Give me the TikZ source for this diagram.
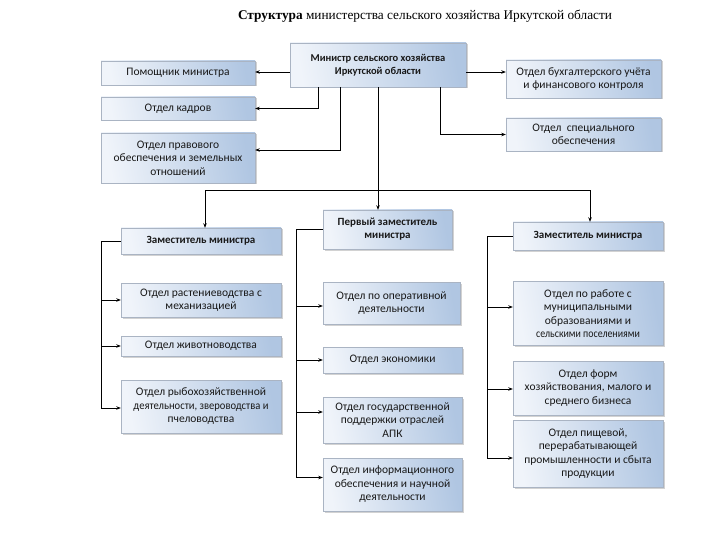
\documentclass[tikz,border=0pt]{standalone}
\usepackage{fontspec}
\setmainfont{Carlito}
\newfontfamily\titlefont{Liberation Serif}
\usetikzlibrary{shadows,arrows.meta}
\definecolor{boxlight}{RGB}{240,244,250}
\definecolor{boxdark}{RGB}{176,198,226}
\definecolor{boxedge}{RGB}{170,180,195}
\newcommand{\sq}[2]{\scalebox{#1}[1]{#2}}
\begin{document}
\begin{tikzpicture}[x=1pt,y=1pt,
  box/.style={draw=boxedge, line width=0.4pt, shading=axis, left color=boxlight, right color=boxdark, shading angle=100,
    drop shadow={shadow xshift=1.5pt, shadow yshift=-1.5pt, fill=black!35},
    align=center, inner sep=1pt, font=\fontsize{11.5}{13.5}\selectfont, text=black!90},
  bbox/.style={box, font=\fontsize{11}{13}\selectfont\bfseries},
  conn/.style={line width=0.8pt, black},
  arr/.style={conn, -{Stealth[length=4.5pt, width=3.5pt]}}]
\useasboundingbox (0,0) rectangle (720,-540);
\node[font=\titlefont\fontsize{13.3}{15}\selectfont] (title) at (425,-16) {\textbf{Структура} министерства сельского хозяйства Иркутской области};
% top
\node[bbox, font=\fontsize{10.5}{13}\selectfont\bfseries, minimum width=176, minimum height=44] (min) at (378,-65) {Министр сельского хозяйства\\Иркутской области};
\node[box, minimum width=154, minimum height=24] (pom) at (178,-73) {Помощник министра};
\node[box, minimum width=154, minimum height=23] (kadr) at (178,-108.5) {Отдел кадров};
\node[box, minimum width=154, minimum height=50] (prav) at (178,-158) {Отдел правового\\обеспечения и земельных\\отношений};
\node[box, minimum width=155, minimum height=38] (buh) at (583.5,-79) {Отдел бухгалтерского учёта\\и финансового контроля};
\node[box, minimum width=155, minimum height=33] (spec) at (583.5,-134.5) {Отдел~ специального\\обеспечения};
% left column
\node[bbox, minimum width=160, minimum height=26] (zl) at (201,-241) {Заместитель министра};
\node[box, minimum width=160, minimum height=34] (rast) at (201,-300) {Отдел растениеводства с\\механизацией};
\node[box, minimum width=160, minimum height=20] (zhiv) at (201,-346) {Отдел животноводства};
\node[box, minimum width=160, minimum height=53] (ryb) at (201,-406.5) {Отдел рыбохозяйственной\\\sq{0.92}{деятельности, звероводства и}\\пчеловодства};
% middle column
\node[bbox, minimum width=129, minimum height=39] (pz) at (387.5,-229.5) {Первый заместитель\\министра};
\node[box, minimum width=137, minimum height=42] (oper) at (391.5,-303) {Отдел по оперативной\\деятельности};
\node[box, minimum width=139, minimum height=26] (econ) at (392.5,-360) {Отдел экономики};
\node[box, minimum width=139, minimum height=46] (gos) at (392.5,-420) {Отдел государственной\\поддержки отраслей\\АПК};
\node[box, minimum width=139, minimum height=53] (info) at (392.5,-484.5) {Отдел информационного\\обеспечения и научной\\деятельности};
% right column
\node[bbox, minimum width=150, minimum height=28] (zr) at (588,-236) {Заместитель министра};
\node[box, minimum width=150, minimum height=64] (mun) at (588,-313.5) {Отдел по работе с\\муниципальными\\образованиями и\\\sq{0.86}{сельскими поселениями}};
\node[box, minimum width=150, minimum height=54] (form) at (588,-388) {Отдел форм\\хозяйствования, малого и\\среднего бизнеса};
\node[box, minimum width=150, minimum height=67] (pish) at (588,-453.5) {Отдел пищевой,\\перерабатывающей\\промышленности и сбыта\\продукции};
% connectors from minister
\coordinate (mw) at ([yshift=-7]min.west);
\coordinate (me) at ([yshift=-7]min.east);
\draw[arr] (mw) -- (pom.east |- mw);
\draw[arr] ([xshift=-60]min.south) |- (kadr.east);
\draw[arr] ([xshift=-38]min.south) |- ([yshift=8]prav.east);
\draw[arr] (me) -- (buh.west |- me);
\draw[arr] ([xshift=62]min.south) |- (spec.west);
\coordinate (split) at ([yshift=-103]min.south);
\draw[conn] (min.south) -- (split);
\draw[arr] (split) -| ([xshift=4]zl.north);
\draw[arr] (split) -| ([xshift=2]zr.north);
\draw[arr] (split) -- (split |- pz.north);
% left bracket
\draw[arr] (zl.west) -- ++(-19,0) |- (rast.west);
\draw[arr] (zl.west) -- ++(-19,0) |- (zhiv.west);
\draw[arr] (zl.west) -- ++(-19,0) |- ([yshift=-1.5]ryb.west);
% middle bracket
\draw[arr] (pz.west) -- ++(-26,0) |- ([yshift=-3]oper.west);
\draw[arr] (pz.west) -- ++(-26,0) |- (econ.west);
\draw[arr] (pz.west) -- ++(-26,0) |- ([yshift=8]gos.west);
\draw[arr] (pz.west) -- ++(-26,0) |- ([yshift=7]info.west);
% right bracket
\draw[arr] (zr.west) -- ++(-25,0) |- ([yshift=6.5]mun.west);
\draw[arr] (zr.west) -- ++(-25,0) |- ([yshift=-1]form.west);
\draw[arr] (zr.west) -- ++(-25,0) |- ([yshift=-4.5]pish.west);
\end{tikzpicture}
\end{document}
